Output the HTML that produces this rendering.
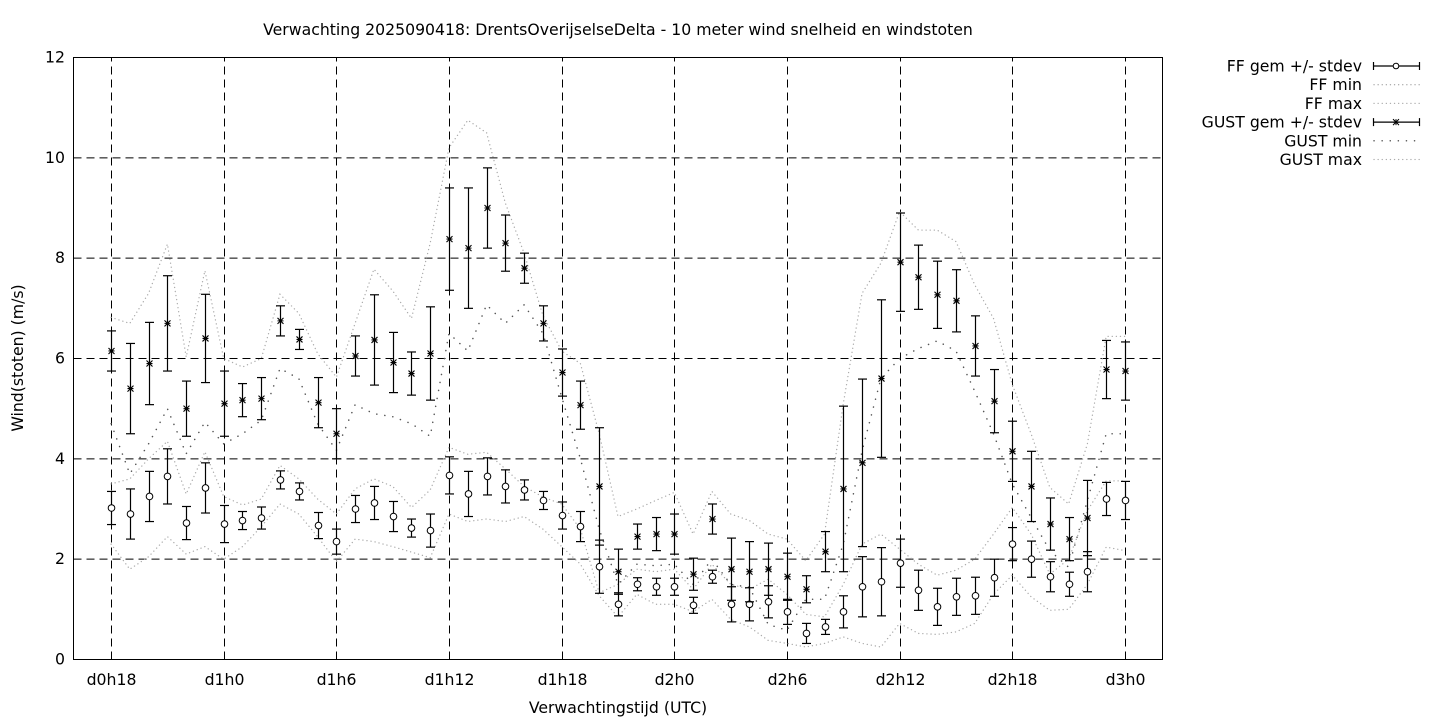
<!DOCTYPE html>
<html><head><meta charset="utf-8"><style>
html,body{margin:0;padding:0;background:#fff;}
svg{display:block;font-family:"DejaVu Sans","Liberation Sans",sans-serif;font-size:15.7px;}
</style></head>
<body>
<svg id="chart" width="1440" height="720" xmlns="http://www.w3.org/2000/svg">
<text x="618" y="35" text-anchor="middle">Verwachting 2025090418: DrentsOverijselseDelta - 10 meter wind snelheid en windstoten</text>
<text x="618" y="713" text-anchor="middle">Verwachtingstijd (UTC)</text>
<text transform="translate(23,358) rotate(-90)" text-anchor="middle">Wind(stoten) (m/s)</text>
<g id="grid"></g>
<g id="series"></g>
<rect x="73.5" y="57.5" width="1089" height="602" fill="none" stroke="#000" stroke-width="1"/>
<g id="ticks"></g>
<g id="legend"></g>
</svg>
<script>
const hours = [18,19,20,21,22,23,24,25,26,27,28,29,30,31,32,33,34,35,36,37,38,39,40,41,42,43,44,45,46,47,48,49,50,51,52,53,54,55,56,57,58,59,60,61,62,63,64,65,66,67,68,69,70,71,72];
const ffMean = [3.02,2.9,3.25,3.65,2.72,3.42,2.7,2.77,2.82,3.58,3.35,2.67,2.35,3.0,3.12,2.85,2.62,2.57,3.67,3.3,3.65,3.45,3.38,3.17,2.87,2.65,1.85,1.1,1.5,1.45,1.45,1.08,1.65,1.1,1.1,1.15,0.95,0.52,0.65,0.95,1.45,1.55,1.92,1.38,1.05,1.25,1.27,1.63,2.3,2.0,1.65,1.5,1.75,3.2,3.17];
const ffSd = [0.33,0.5,0.5,0.55,0.33,0.5,0.37,0.18,0.22,0.18,0.17,0.26,0.25,0.27,0.33,0.3,0.18,0.33,0.37,0.45,0.37,0.33,0.2,0.18,0.27,0.3,0.53,0.23,0.13,0.17,0.17,0.16,0.13,0.35,0.33,0.32,0.25,0.2,0.15,0.32,0.6,0.68,0.48,0.4,0.37,0.37,0.37,0.37,0.33,0.36,0.3,0.24,0.4,0.33,0.38];
const ffMin = [2.3,1.8,2.05,2.45,2.1,2.25,2.0,2.25,2.65,3.1,2.9,2.45,1.95,2.4,2.35,2.25,2.14,2.03,2.9,2.75,2.8,2.75,2.85,2.6,2.25,1.9,1.27,0.85,1.3,1.1,1.1,0.95,1.2,0.8,0.65,0.38,0.32,0.25,0.32,0.45,0.32,0.25,0.72,0.52,0.5,0.55,0.72,1.3,1.68,1.25,0.98,1.0,1.5,2.24,2.17];
const ffMax = [3.5,3.6,4.0,4.35,3.3,4.14,3.25,3.08,3.2,3.87,3.6,3.2,2.9,3.4,3.6,3.45,3.03,3.38,4.23,4.09,4.13,3.8,3.45,3.24,3.1,2.6,1.33,1.5,1.8,1.75,1.8,1.4,1.9,1.5,1.4,1.6,1.3,0.9,0.85,1.5,2.3,2.5,2.2,1.9,1.68,1.78,2.0,2.5,3.03,2.5,1.7,2.0,2.97,3.56,3.56];
const gustMean = [6.15,5.4,5.9,6.7,5.0,6.4,5.1,5.17,5.2,6.75,6.38,5.12,4.5,6.05,6.37,5.92,5.7,6.1,8.38,8.2,9.0,8.3,7.8,6.7,5.72,5.07,3.45,1.75,2.45,2.5,2.5,1.7,2.8,1.8,1.75,1.8,1.65,1.4,2.15,3.4,3.92,5.6,7.92,7.62,7.27,7.15,6.25,5.15,4.15,3.45,2.7,2.4,2.82,5.78,5.75];
const gustSd = [0.4,0.9,0.82,0.95,0.55,0.88,0.65,0.33,0.42,0.3,0.2,0.5,0.5,0.4,0.9,0.6,0.43,0.93,1.02,1.2,0.8,0.56,0.3,0.35,0.47,0.48,1.17,0.45,0.25,0.33,0.4,0.32,0.3,0.62,0.6,0.52,0.47,0.27,0.4,1.65,1.67,1.57,0.98,0.64,0.67,0.62,0.6,0.63,0.6,0.7,0.52,0.43,0.75,0.58,0.58];
const gustMin = [4.7,3.7,4.3,5.0,4.1,4.73,4.3,4.5,4.77,5.8,5.6,4.7,4.17,5.08,4.9,4.84,4.7,4.45,6.5,6.15,7.07,6.7,7.07,6.5,5.23,4.0,2.6,1.5,1.9,1.87,1.9,1.5,2.0,1.5,1.44,0.7,0.58,1.2,1.2,2.3,4.16,5.6,6.0,6.2,6.35,6.15,5.35,4.5,3.5,2.83,2.17,1.84,3.17,4.5,4.5];
const gustMax = [6.82,6.7,7.3,8.28,6.03,7.75,6.0,5.83,6.0,7.28,6.9,6.1,5.63,6.7,7.78,7.35,6.8,8.3,10.2,10.75,10.5,9.1,8.1,6.86,6.15,5.9,4.5,2.85,3.0,3.17,3.33,2.5,3.35,2.9,2.77,2.5,2.4,1.97,2.5,5.1,7.3,7.9,8.93,8.56,8.56,8.33,7.47,6.8,5.48,4.5,3.43,3.1,4.3,6.44,6.44];
const yTicks = [0,2,4,6,8,10,12];
const xTickHours = [18,24,30,36,42,48,54,60,66,72];
const xTickLabels = ["d0h18","d1h0","d1h6","d1h12","d1h18","d2h0","d2h6","d2h12","d2h18","d3h0"];

const NS = "http://www.w3.org/2000/svg";
const X0 = 73.5, X1 = 1162.5, Y0 = 659.5, Y1 = 57.5, HMIN = 16, HMAX = 74, VMAX = 12;
function xs(h){ return X0 + (h - HMIN) / (HMAX - HMIN) * (X1 - X0); }
function ys(v){ return Y0 - v / VMAX * (Y0 - Y1); }
function mk(tag, attrs, parent){ const e = document.createElementNS(NS, tag); for (const k in attrs) e.setAttribute(k, attrs[k]); parent.appendChild(e); return e; }

const grid = document.getElementById('grid');
const ticks = document.getElementById('ticks');
yTicks.forEach(v => {
  const y = ys(v);
  if (v > 0 && v < VMAX) {
    const g = mk('line', {x1:X0, x2:X1, y1:y, y2:y, stroke:'#000', 'stroke-dasharray':'8,5', 'stroke-width':1}, grid);
    
    
  }
  const t = mk('text', {x:65, y:y+5, 'text-anchor':'end'}, ticks);
  t.textContent = String(v);
  
  
});
xTickHours.forEach((h, i) => {
  const x = Math.round(xs(h)) + 0.5;
  const g = mk('line', {x1:x, x2:x, y1:Y0, y2:Y1, stroke:'#000', 'stroke-dasharray':'8,5', 'stroke-width':1}, grid);
  
  
  const t = mk('text', {x:x, y:685, 'text-anchor':'middle'}, ticks);
  t.textContent = xTickLabels[i];
  
  
});

const series = document.getElementById('series');
function line(arr, name, color, dash, width){
  const pts = arr.map((v, i) => xs(hours[i]).toFixed(1) + ',' + ys(v).toFixed(1)).join(' ');
  const p = mk('polyline', {points:pts, fill:'none', stroke:color, 'stroke-width':width, 'stroke-dasharray':dash, 'stroke-linecap':'round'}, series);
  
  
}
line(ffMin, 'ff-min-line', '#aaa', '0.1,4', 1.3);
line(ffMax, 'ff-max-line', '#aaa', '0.1,4', 1.3);
line(gustMax, 'gust-max-line', '#aaa', '0.1,4', 1.3);
line(gustMin, 'gust-min-line', '#555', '0.1,8', 1.5);

function errbars(mean, sd, name, marker){
  mean.forEach((m, i) => {
    const x = Math.round(xs(hours[i])) + 0.5;
    const g = mk('g', {}, series);
    
    
    const yl = ys(m - sd[i]), yh = ys(m + sd[i]), ym = ys(m);
    mk('line', {x1:x, x2:x, y1:yl, y2:yh, stroke:'#000', 'stroke-width':1.2}, g);
    mk('line', {x1:x-4.5, x2:x+4.5, y1:yl, y2:yl, stroke:'#000', 'stroke-width':1.2}, g);
    mk('line', {x1:x-4.5, x2:x+4.5, y1:yh, y2:yh, stroke:'#000', 'stroke-width':1.2}, g);
    if (marker === 'circle') {
      mk('circle', {cx:x, cy:ym, r:3.3, fill:'#fff', stroke:'#000', 'stroke-width':1}, g);
    } else {
      const s = 3;
      mk('path', {d:`M${x-s},${ym}H${x+s}M${x},${ym-s}V${ym+s}M${x-s},${ym-s}L${x+s},${ym+s}M${x-s},${ym+s}L${x+s},${ym-s}`, stroke:'#000', 'stroke-width':1.1}, g);
    }
  });
}
errbars(ffMean, ffSd, 'ff-mean-point', 'circle');
errbars(gustMean, gustSd, 'gust-mean-point', 'star');

const legend = document.getElementById('legend');
const legItems = [
  ['FF gem +/- stdev', 'err', 'circle'],
  ['FF min', 'line', '#aaa'],
  ['FF max', 'line', '#aaa'],
  ['GUST gem +/- stdev', 'err', 'star'],
  ['GUST min', 'line2', '#555'],
  ['GUST max', 'line', '#aaa']
];
legItems.forEach((it, i) => {
  const y = 66 + i * 18.7;
  const g = mk('g', {}, legend);
  
  
  const t = mk('text', {x:1362, y:y+5.5, 'text-anchor':'end'}, g);
  t.textContent = it[0];
  if (it[1] === 'err') {
    mk('line', {x1:1373, x2:1420, y1:y, y2:y, stroke:'#000', 'stroke-width':1.2}, g);
    mk('line', {x1:1373.5, x2:1373.5, y1:y-4, y2:y+4, stroke:'#000', 'stroke-width':1.2}, g);
    mk('line', {x1:1419.5, x2:1419.5, y1:y-4, y2:y+4, stroke:'#000', 'stroke-width':1.2}, g);
    if (it[2] === 'circle') mk('circle', {cx:1396, cy:y, r:2.8, fill:'#fff', stroke:'#000'}, g);
    else mk('path', {d:`M1393,${y}H1399M1396,${y-3}V${y+3}M1393,${y-3}L1399,${y+3}M1393,${y+3}L1399,${y-3}`, stroke:'#000'}, g);
  } else {
    mk('line', {x1:1374, x2:1420, y1:y, y2:y, stroke:it[2], 'stroke-width':it[1]==='line2'?1.5:1.3, 'stroke-dasharray':it[1]==='line2'?'0.1,8':'0.1,4', 'stroke-linecap':'round'}, g);
  }
});
</script>
</body></html>
